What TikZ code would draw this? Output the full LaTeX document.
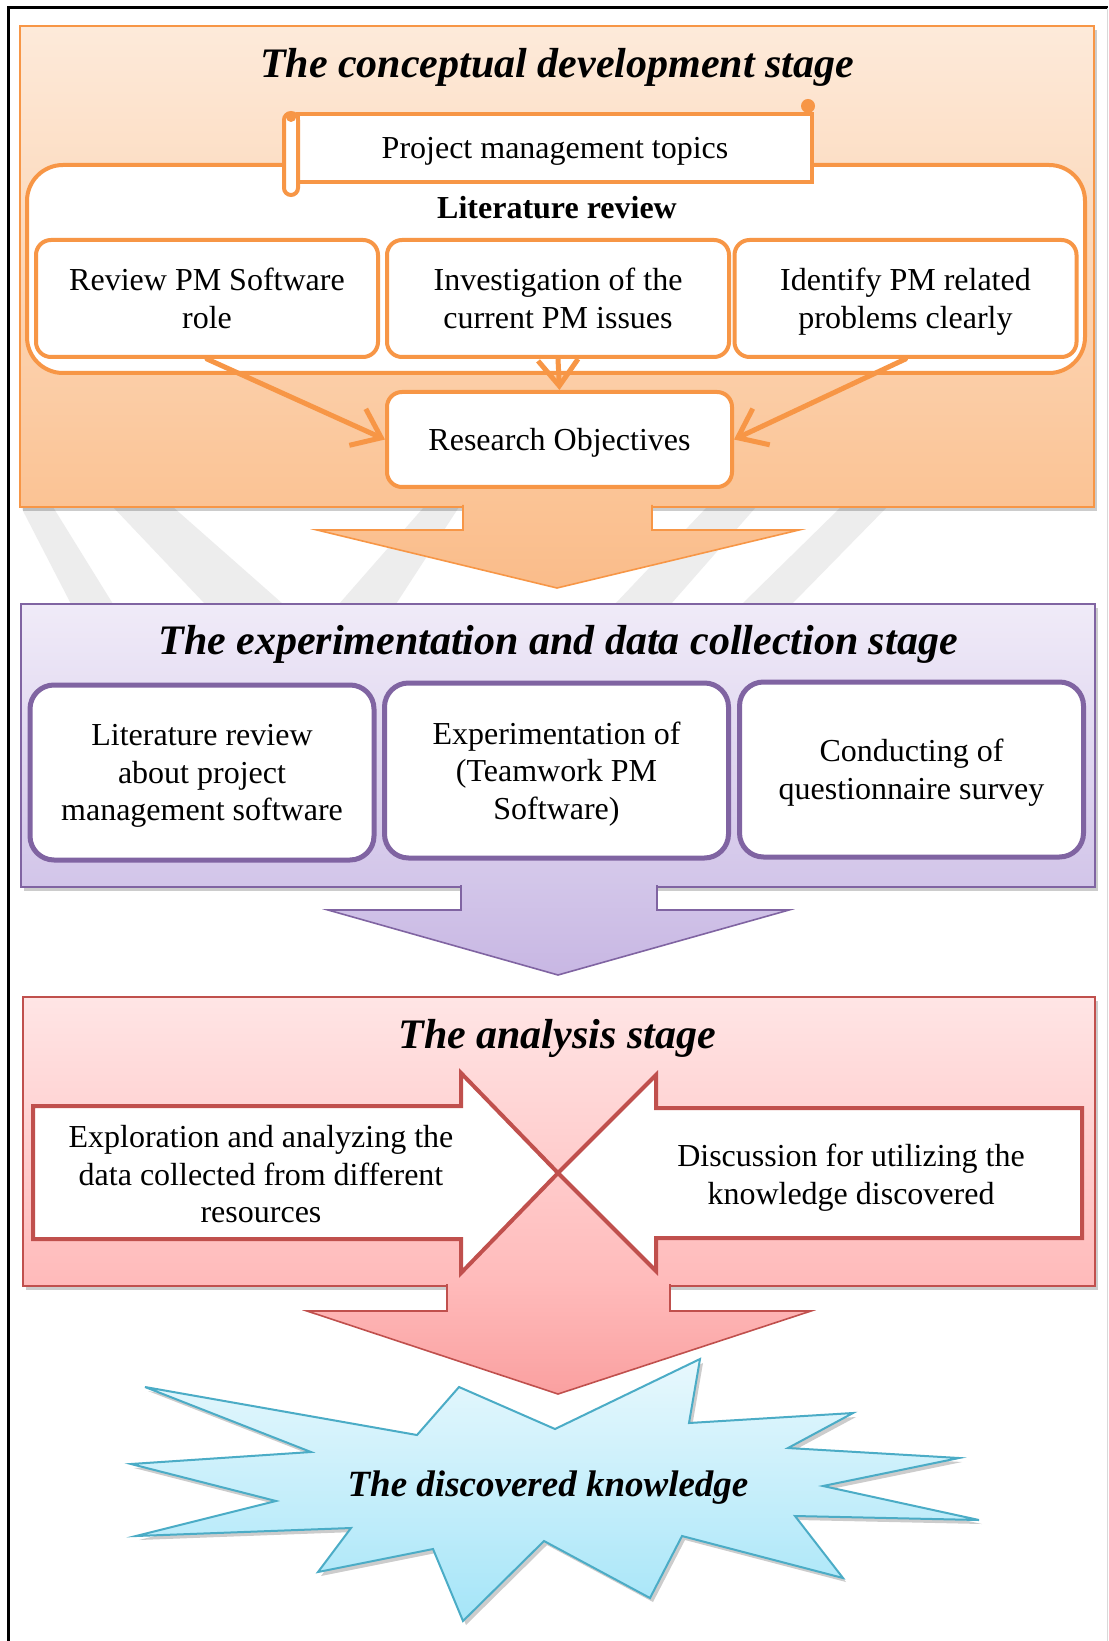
\documentclass[tikz,border=0pt]{standalone}
\usepackage{fontspec}
\setmainfont{Liberation Serif}
\usetikzlibrary{arrows.meta, shadows, positioning}

\definecolor{orangeline}{RGB}{247,150,70}
\definecolor{orangetop}{RGB}{253,234,218}
\definecolor{orangebot}{RGB}{251,195,148}
\definecolor{orangetip}{RGB}{250,188,138}
\definecolor{purpleline}{RGB}{128,100,162}
\definecolor{purpletop}{RGB}{240,235,248}
\definecolor{purplebot}{RGB}{210,197,233}
\definecolor{purpletip}{RGB}{200,183,227}
\definecolor{redline}{RGB}{192,80,77}
\definecolor{redtop}{RGB}{255,229,229}
\definecolor{redbot}{RGB}{255,186,186}
\definecolor{redtip}{RGB}{250,160,160}
\definecolor{blueline}{RGB}{75,172,198}
\definecolor{bluetop}{RGB}{232,248,253}
\definecolor{bluebot}{RGB}{165,229,248}
\definecolor{wmark}{RGB}{237,237,237}

\begin{document}
\begin{tikzpicture}[x=0.5pt, y=-0.5pt,
		stage/.style={draw=#1line, line width=1pt, top color=#1top, bottom color=#1bot,
			drop shadow={shadow xshift=1.5pt, shadow yshift=-2pt, opacity=0.2, fill=black}},
		bigarrow/.style={draw=#1line, line width=0.8pt, top color=#1bot, bottom color=#1tip},
		stagetitle/.style={text depth=0pt, font=\fontsize{21}{25}\selectfont\bfseries\itshape},
		boxtext/.style={align=center, text depth=0pt, font=\fontsize{16}{18.8}\selectfont},
		orbox/.style={boxtext, draw=orangeline, line width=2pt, fill=white, rounded corners=7.5pt,
			minimum width=171pt, minimum height=58.5pt},
		pubox/.style={boxtext, draw=purpleline, line width=2.5pt, fill=white, rounded corners=12pt,
			minimum width=172pt, minimum height=87.5pt},
		redarrow/.style={draw=redline, line width=2pt, fill=white, line join=miter},
		link/.style={draw=orangeline, line width=2.5pt, line cap=round,
			-{Straight Barb[length=13pt, width=20pt]}}
	]
	\useasboundingbox (0,0) rectangle (1108,1641);
	\fill[white] (0,0) rectangle (1108,1641);
	
	% watermark stripes
	\begin{scope}[wmark]
		\fill (21,507) -- (53,507) -- (113,604) -- (71,604) -- cycle;
		\fill (113,507) -- (173,507) -- (283,604) -- (205,604) -- cycle;
		\fill (424,507) -- (459,507) -- (396,604) -- (339,604) -- cycle;
		\fill (707,507) -- (756,507) -- (671,604) -- (615,604) -- cycle;
		\fill (841,507) -- (887,507) -- (792,604) -- (742,604) -- cycle;
	\end{scope}
	
	% frame
	\draw[line width=1.5pt] (8,1641) -- (8,8) -- (1108,8);
	\draw[black!15] (1107,8) -- (1107,1641);
	
	% conceptual development stage
	\path[stage=orange] (20,26) rectangle (1094,507);
	\path[bigarrow=orange] (463,505) -- (463,530) -- (317,530) -- (557,588)
		-- (799,530) -- (652,530) -- (652,505);
	\node[stagetitle] (t1) at (557,63) {The conceptual development stage};
	
	\draw[orangeline, line width=2pt, fill=white, rounded corners=18pt] (27,165) rectangle (1085,373);
	\node[boxtext, draw=orangeline, line width=2pt, fill=white, minimum width=257pt, minimum height=34pt]
		(topics) at (555,148) {Project management topics};
	\draw[orangeline, line width=2pt, fill=white, rounded corners=3.5pt] (284,113) rectangle (298,195);
	\fill[orangeline] (291,117) circle [radius=5];
	\fill[orangeline] (808,106) circle [radius=7];
	\node[text depth=0pt, font=\fontsize{16}{18.8}\selectfont\bfseries] (litlabel) at (557,207) {Literature review};
	
	\node[orbox] (lr1) at (207,298.5) {Review PM Software\\role};
	\node[orbox] (lr2) at (558,298.5) {Investigation of the\\current PM issues};
	\node[orbox] (lr3) at (905.5,298.5) {Identify PM related\\problems clearly};
	\node[orbox, minimum width=172.5pt, minimum height=47.5pt] (obj) at (559.5,439.5) {Research Objectives};
	
	\draw[link] (lr1.south) -- (obj.west);
	\draw[link] (lr2.south) -- (obj.north);
	\draw[link] (lr3.south) -- (obj.east);
	
	% experimentation and data collection stage
	\path[stage=purple] (21,604) rectangle (1095,887);
	\path[bigarrow=purple] (461,885) -- (461,910) -- (328,910) -- (558,975)
		-- (789,910) -- (657,910) -- (657,885);
	\node[stagetitle] (t2) at (558,640) {The experimentation and data collection stage};
	
	\node[pubox] (ex1) at (202,772.5) {Literature review\\about project\\management software};
	\node[pubox] (ex2) at (556.5,770.5) {Experimentation of\\(Teamwork PM\\Software)};
	\node[pubox] (ex3) at (911.5,769.5) {Conducting of\\questionnaire survey};
	
	% analysis stage
	\path[stage=red] (23,997) rectangle (1095,1286);
	\path[bigarrow=red] (447,1284) -- (447,1311) -- (307,1311) -- (558,1394)
		-- (811,1311) -- (670,1311) -- (670,1284);
	\node[stagetitle] (t3) at (557,1034) {The analysis stage};
	
	\coordinate (meet) at (558,1173);
	\draw[redarrow] (33,1106) -- (461,1106) -- (461,1073) -- (meet) -- (461,1273)
		-- (461,1239) -- (33,1239) -- cycle;
	\draw[redarrow] (1082,1108) -- (656,1108) -- (656,1075) -- (meet) -- (656,1271)
		-- (656,1238) -- (1082,1238) -- cycle;
	\node[boxtext] (an1) at (261,1174) {Exploration and analyzing the\\data collected from different\\resources};
	\node[boxtext] (an2) at (851,1174) {Discussion for utilizing the\\knowledge discovered};
	
	% discovered knowledge
	\path[draw=blueline, line width=1pt, top color=bluetop, bottom color=bluebot,
		drop shadow={shadow xshift=1.5pt, shadow yshift=-2pt, opacity=0.2, fill=black}]
		(145,1387) -- (417,1435) -- (459,1387) -- (555,1429) -- (700,1359) -- (689,1423)
		-- (853,1413) -- (788,1448) -- (959,1458) -- (823,1486) -- (979,1520) -- (795,1516)
		-- (843,1578) -- (682,1536) -- (650,1598) -- (544,1541) -- (463,1621) -- (433,1549)
		-- (318,1572) -- (351,1528) -- (136,1536) -- (276,1501) -- (131,1464) -- (311,1452) -- cycle;
	\node[text depth=0pt, font=\fontsize{18.5}{22}\selectfont\bfseries\itshape] (result) at (548,1484) {The discovered knowledge};
\end{tikzpicture}
\end{document}
